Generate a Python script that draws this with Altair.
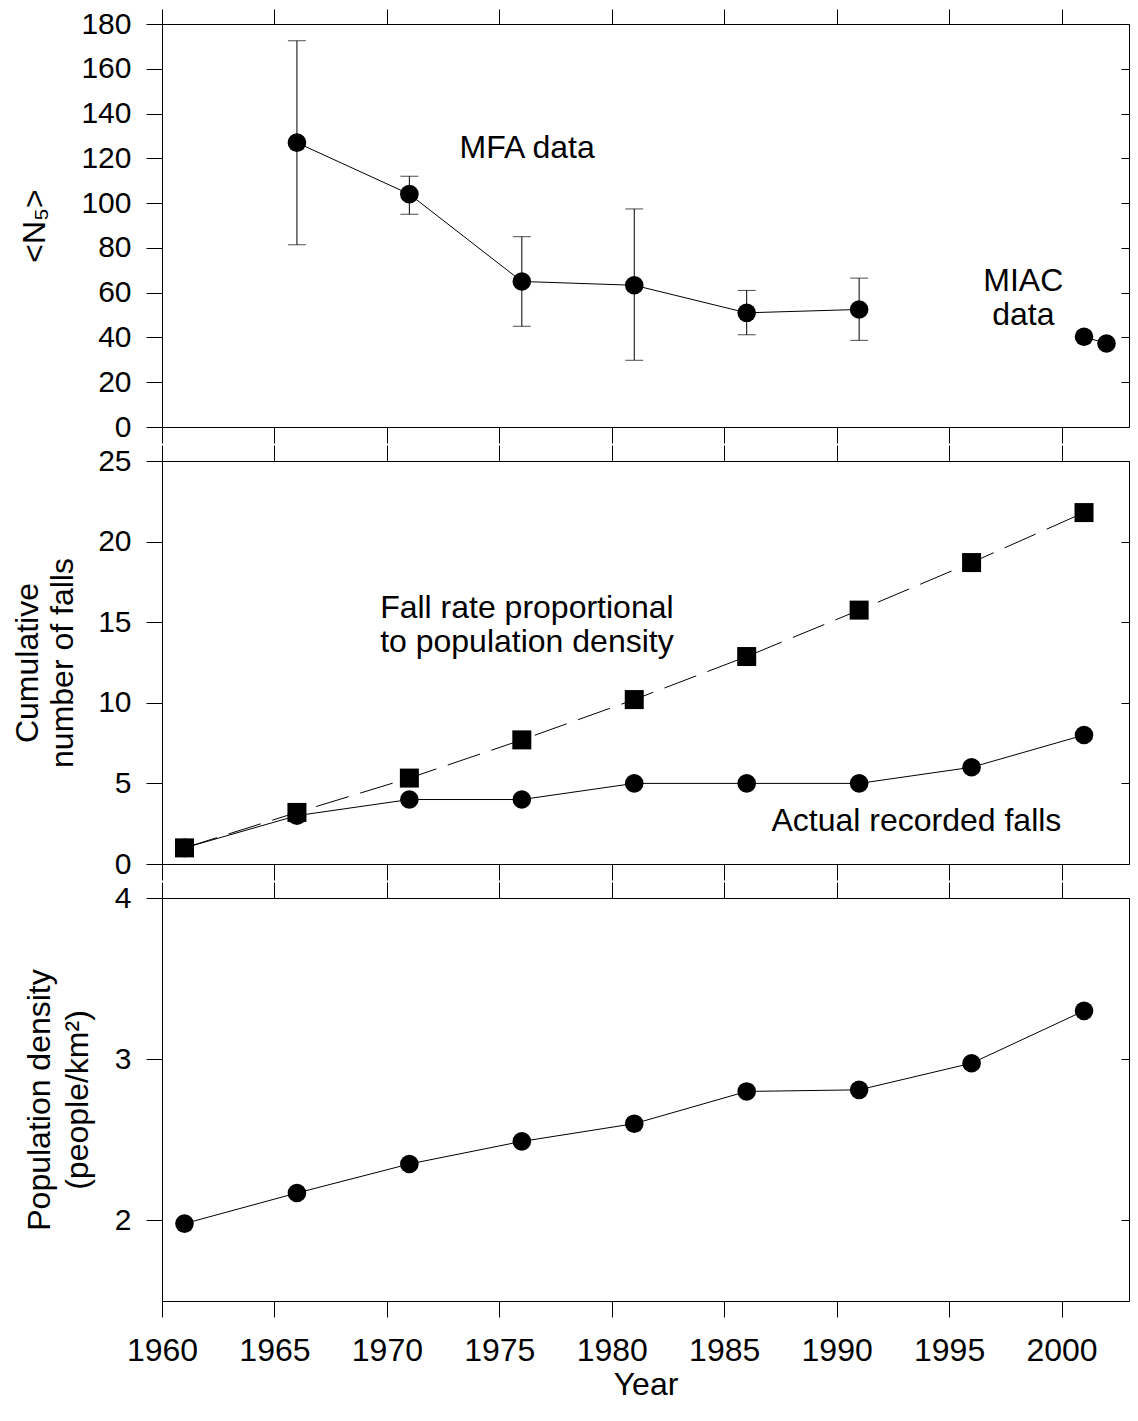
import altair as alt
import pandas as pd

FONT = "Liberation Sans"

# ---------------- data ----------------
x_ticks = [1960, 1965, 1970, 1975, 1980, 1985, 1990, 1995, 2000]

mfa_years = [1966, 1971, 1976, 1981, 1986, 1991]
mfa_n5 = [127.0, 104.0, 65.0, 63.3, 51.0, 52.5]
mfa_lo = [81.4, 95.0, 45.0, 29.8, 41.2, 38.7]
mfa_hi = [172.5, 112.0, 85.0, 97.4, 61.0, 66.5]

miac_years = [2001, 2002]
miac_n5 = [40.3, 37.3]

fall_years = [1961, 1966, 1971, 1976, 1981, 1986, 1991, 1996, 2001]
actual_falls = [1, 3, 4, 4, 5, 5, 5, 6, 8]
proportional_falls = [1.0, 3.2, 5.33, 7.7, 10.2, 12.87, 15.75, 18.7, 21.8]

pop_years = [1961, 1966, 1971, 1976, 1981, 1986, 1991, 1996, 2001]
pop_density = [1.98, 2.17, 2.35, 2.49, 2.60, 2.80, 2.81, 2.975, 3.30]

n5_ticks = [0, 20, 40, 60, 80, 100, 120, 140, 160, 180]
falls_ticks = [0, 5, 10, 15, 20, 25]
pop_ticks = [2, 3, 4]

# annotation texts (anchored in data units)
ann_top = pd.DataFrame({"year": [1976.24], "v": [120.3], "t": ["MFA data"]})
ann_miac = pd.DataFrame({"year": [1998.3], "v": [60.8], "t": ["MIAC\ndata"]})
ann_prop = pd.DataFrame({"year": [1969.7], "v": [15.23],
                         "t": ["Fall rate proportional\nto population density"]})
ann_act = pd.DataFrame({"year": [1987.1], "v": [2.03], "t": ["Actual recorded falls"]})

# ---------------- tables ----------------
df_mfa = pd.DataFrame({"year": mfa_years, "v": mfa_n5, "lo": mfa_lo, "hi": mfa_hi})
df_miac = pd.DataFrame({"year": miac_years, "v": miac_n5})
df_act = pd.DataFrame({"year": fall_years, "v": actual_falls})
df_prop = pd.DataFrame({"year": fall_years, "v": proportional_falls})
df_pop = pd.DataFrame({"year": pop_years, "v": pop_density})

W, H = 967, 403
xs = alt.Scale(domain=[1960, 2003], nice=False, zero=False)


def axis(orient, values, tick=16, **kw):
    base = dict(orient=orient, values=values, tickSize=tick, ticks=True, domain=True,
                grid=False, domainColor="black", tickColor="black", domainWidth=1,
                tickWidth=1, labelFont=FONT, labelColor="black", titleFont=FONT,
                titleColor="black", titleFontWeight="normal", labelFlush=False)
    base.update(kw)
    return alt.Axis(**base)


def yleft(values, title, tx, lh=35):
    return axis("left", values, labelFontSize=30, labelPadding=15, title=title,
                titleFontSize=32, titleAngle=270, titleAlign="center",
                titleBaseline="alphabetic", titleX=tx, titleY=H / 2,
                titleLineHeight=lh, format="d")


def yright_domain(values):
    return axis("right", values, ticks=False, tick=0, labels=False, title=None)


def yright_ticks(values):
    # short ticks on the right edge, drawn just inside the frame
    return axis("right", values, tick=8, offset=-8, domain=False, labels=False,
                title=None)


def xtop(tick=16):
    return axis("top", x_ticks, tick=tick, labels=False, title=None)


def xbottom(labels=False):
    if labels:
        return axis("bottom", x_ticks, labels=True, labelFontSize=32, labelPadding=18,
                    format="d", title="Year", titleFontSize=32, titleX=W / 2,
                    titleY=93, titleBaseline="alphabetic", titleAlign="center")
    return axis("bottom", x_ticks, labels=False, title=None)


def X(ax=None):
    return alt.X("year:Q", scale=xs, axis=ax)


def Y(field, sc, ax=None):
    return alt.Y(field, scale=sc, axis=ax)


def frame(df, ys, yvals, xbot_labels=False, yleft_ax=None, top_tick=16):
    a = alt.Chart(df).mark_point(opacity=0).encode(
        x=X(xbottom(xbot_labels)), y=Y("v:Q", ys, yleft_ax))
    b = alt.Chart(df).mark_point(opacity=0).encode(
        x=X(xtop(top_tick)), y=Y("v:Q", ys, yright_domain(yvals)))
    c = alt.Chart(df).mark_point(opacity=0).encode(
        x=X(), y=Y("v:Q", ys, yright_ticks(yvals)))
    return [a, b, c]


def text_layer(df, ys, align="center", lh=32):
    return alt.Chart(df).mark_text(font=FONT, fontSize=32, color="black", align=align,
                                   baseline="alphabetic", lineBreak="\n",
                                   lineHeight=lh).encode(
        x=X(), y=Y("v:Q", ys), text="t:N")


# ---------------- top panel ----------------
ys1 = alt.Scale(domain=[0, 180], nice=False, zero=False)
top_layers = frame(df_mfa, ys1, n5_ticks,
                   yleft_ax=yleft(n5_ticks, "<N₅>", -118), top_tick=15) + [
    alt.Chart(df_mfa).mark_rule(color="black", strokeWidth=1).encode(
        x=X(), y=Y("lo:Q", ys1), y2="hi:Q"),
    alt.Chart(df_mfa).mark_tick(color="black", orient="horizontal", size=18,
                                thickness=1).encode(x=X(), y=Y("lo:Q", ys1)),
    alt.Chart(df_mfa).mark_tick(color="black", orient="horizontal", size=18,
                                thickness=1).encode(x=X(), y=Y("hi:Q", ys1)),
    alt.Chart(df_mfa).mark_line(color="black", strokeWidth=1).encode(
        x=X(), y=Y("v:Q", ys1)),
    alt.Chart(df_mfa).mark_circle(color="black", opacity=1, size=346).encode(
        x=X(), y=Y("v:Q", ys1)),
    alt.Chart(df_miac).mark_line(color="black", strokeWidth=1).encode(
        x=X(), y=Y("v:Q", ys1)),
    alt.Chart(df_miac).mark_circle(color="black", opacity=1, size=346).encode(
        x=X(), y=Y("v:Q", ys1)),
    text_layer(ann_top, ys1),
    text_layer(ann_miac, ys1, lh=34),
]
top = alt.layer(*top_layers).resolve_axis(x="independent", y="independent").properties(
    width=W, height=H)

# ---------------- middle panel ----------------
ys2 = alt.Scale(domain=[0, 25], nice=False, zero=False)
mid_layers = frame(df_act, ys2, falls_ticks,
                   yleft_ax=yleft(falls_ticks, ["Cumulative", "number of falls"],
                                  -125, lh=35)) + [
    alt.Chart(df_prop).mark_line(color="black", strokeWidth=1, strokeDash=[34, 12]).encode(
        x=X(), y=Y("v:Q", ys2)),
    alt.Chart(df_act).mark_line(color="black", strokeWidth=1).encode(
        x=X(), y=Y("v:Q", ys2)),
    alt.Chart(df_act).mark_circle(color="black", opacity=1, size=346).encode(
        x=X(), y=Y("v:Q", ys2)),
    alt.Chart(df_prop).mark_square(color="black", opacity=1, filled=True, size=361).encode(
        x=X(), y=Y("v:Q", ys2)),
    text_layer(ann_prop, ys2, align="left", lh=34),
    text_layer(ann_act, ys2, align="left"),
]
mid = alt.layer(*mid_layers).resolve_axis(x="independent", y="independent").properties(
    width=W, height=H)

# ---------------- bottom panel ----------------
ys3 = alt.Scale(domain=[1.5, 4], nice=False, zero=False)
bot_layers = frame(df_pop, ys3, pop_ticks, xbot_labels=True,
                   yleft_ax=yleft(pop_ticks, ["Population density", "(people/km²)"],
                                  -113, lh=38)) + [
    alt.Chart(df_pop).mark_line(color="black", strokeWidth=1).encode(
        x=X(), y=Y("v:Q", ys3)),
    alt.Chart(df_pop).mark_circle(color="black", opacity=1, size=346).encode(
        x=X(), y=Y("v:Q", ys3)),
]
bot = alt.layer(*bot_layers).resolve_axis(x="independent", y="independent").properties(
    width=W, height=H)

chart = alt.vconcat(top, mid, bot, spacing=34, bounds="flush").properties(
    padding={"left": 2, "top": 0, "right": 0, "bottom": 0}
).configure_view(stroke=None).configure(background="white")

chart.save("out.html", embed_options={"renderer": "svg", "actions": False})
